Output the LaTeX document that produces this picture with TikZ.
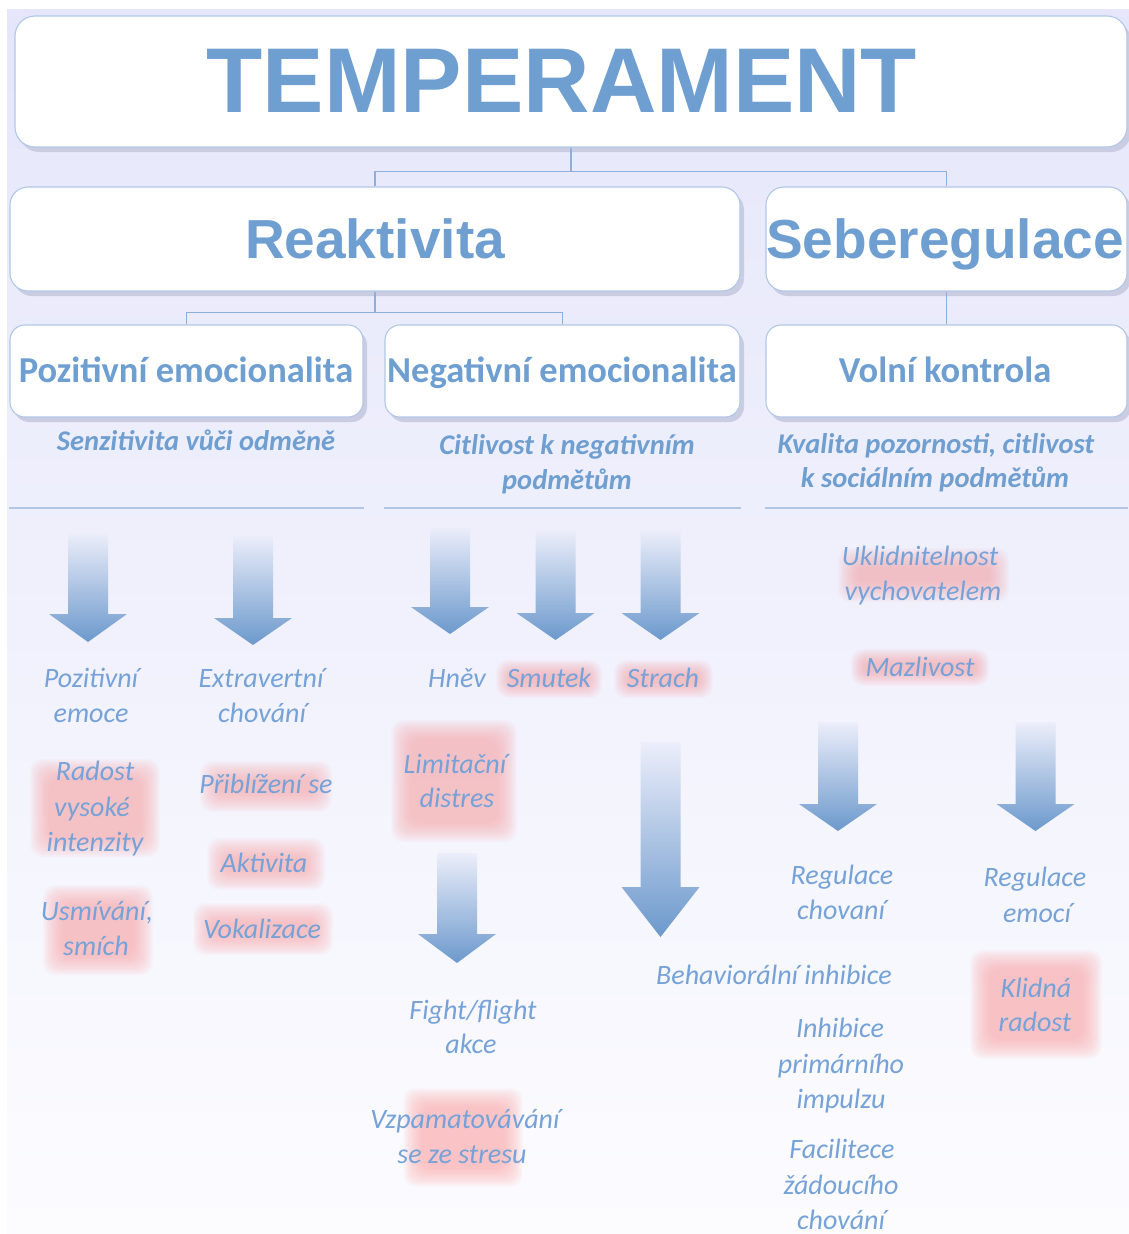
\documentclass[tikz,border=0pt]{standalone}
\usepackage{fontspec}
\setmainfont{Carlito}
\newfontfamily\headfont{Liberation Sans}
\usetikzlibrary{shadows}

\definecolor{bgtop}{HTML}{E5E6FA}
\definecolor{bgbot}{HTML}{FCFCFF}
\definecolor{titleblue}{HTML}{6F9ED0}
\definecolor{itemblue}{HTML}{76A2D8}
\definecolor{boxline}{HTML}{B2C7E8}
\definecolor{connc}{HTML}{8EAEDB}
\definecolor{shadowc}{HTML}{CACCE2}
\definecolor{arrtop}{HTML}{ECEEFA}
\definecolor{arrbot}{HTML}{6C99CC}
\definecolor{glowc}{HTML}{FEACAE}

% block arrow pointing down: centre x, top y, shoulder y, tip y
\newcommand\blockarr[4]{%
  \shade[top color=arrtop, bottom color=arrbot]
    ({#1-20},#2) -- ({#1+20},#2) -- ({#1+20},#3) -- ({#1+39},#3) --
    (#1,#4) -- ({#1-39},#3) -- ({#1-20},#3) -- cycle;}

% soft pink highlight behind a label: x1, y1, x2, y2
\newcommand\softglow[4]{%
  \pgfmathsetmacro\gmin{min(#3-#1,#4-#2)}%
  \pgfmathsetmacro\gst{min(1.3,\gmin/38)}%
  \foreach \k in {0,...,15}{%
    \pgfmathsetmacro\grc{max(2,min(12,(\gmin-2*\k*\gst)/2.5))}%
    \fill[glowc, opacity=0.062, rounded corners=\grc pt]
      ({#1+\k*\gst},{#2+\k*\gst}) rectangle ({#3-\k*\gst},{#4-\k*\gst});}}

\begin{document}
\begin{tikzpicture}[x=1pt, y=-1pt,
  box/.style={draw=boxline, line width=1.1pt, fill=white, rounded corners=#1,
    inner sep=0pt, drop shadow={shadow xshift=4pt, shadow yshift=-5pt,
    fill=shadowc, opacity=1}},
  box/.default=15pt,
  conn/.style={draw=connc, line width=1.1pt},
  divline/.style={draw=boxline, line width=1.5pt},
  bigtitle/.style={text=titleblue, inner sep=0pt, anchor=base,
    font=\headfont\bfseries\fontsize{92}{92}\selectfont},
  midtitle/.style={text=titleblue, inner sep=0pt, anchor=base,
    font=\headfont\bfseries\fontsize{55}{55}\selectfont},
  subtitle/.style={text=titleblue, inner sep=0pt, anchor=base,
    font=\bfseries\fontsize{36.5}{36}\selectfont},
  note/.style={text=titleblue, inner sep=0pt, anchor=base,
    font=\bfseries\itshape\fontsize{28.5}{30}\selectfont},
  item/.style={text=itemblue, inner sep=0pt, anchor=base,
    font=\itshape\fontsize{28}{30}\selectfont}]

\useasboundingbox (0,0) rectangle (1129,1234);
\fill[white] (0,0) rectangle (1129,1234);
\shade[top color=bgtop, bottom color=bgbot] (7,9) rectangle (1129,1234);

% ---- boxes of the hierarchy ----
\node[box=20pt, minimum width=1112pt, minimum height=131pt] (temp) at (571,81.5) {};
\node[box=18pt, minimum width=730pt, minimum height=104pt] (reak) at (375,239) {};
\node[box=18pt, minimum width=361pt, minimum height=104pt] (sebe) at (946.5,239) {};
\node[box, minimum width=353pt, minimum height=92pt] (poz) at (186.5,371) {};
\node[box, minimum width=355pt, minimum height=92pt] (neg) at (562.5,371) {};
\node[box, minimum width=361pt, minimum height=92pt] (vol) at (946.5,371) {};

\node[bigtitle] (temp-t) at (562,112) {TEMPERAMENT};
\node[midtitle] (reak-t) at (375,258) {Reaktivita};
\node[midtitle] (sebe-t) at (945,258) {Seberegulace};
\node[subtitle] (poz-t) at (186,382) {Pozitivní emocionalita};
\node[subtitle] (neg-t) at (562,382) {Negativní emocionalita};
\node[subtitle] (vol-t) at (945,382) {Volní kontrola};

% ---- tree connectors ----
\draw[conn] (temp.south) -- ++(0,24) coordinate (j1);
\draw[conn] (reak.north) |- (j1) -| (sebe.north);
\draw[conn] (reak.south) -- ++(0,21) coordinate (j2);
\draw[conn] (poz.north) |- (j2) -| (neg.north);
\draw[conn] (sebe.south) -- (vol.north);

% ---- notes under the second level ----
\node[note] (poz-n) at (196,450) {Senzitivita vůči odměně};
\node[note] (neg-n1) at (567,454) {Citlivost k negativním};
\node[note] (neg-n2) at (567,489) {podmětům};
\node[note] (vol-n1) at (936,453) {Kvalita pozornosti, citlivost};
\node[note] (vol-n2) at (935,487) {k sociálním podmětům};

\draw[divline] (poz.west |- 0,508) -- (poz.east |- 0,508);
\draw[divline] (neg.west |- 0,508) -- (neg.east |- 0,508);
\draw[divline] (vol.west |- 0,508) -- (vol.east |- 0,508);

% ---- pink highlights ----
\softglow{30}{759}{160}{857}
\softglow{43}{885}{153}{975}
\softglow{200}{761}{332}{812}
\softglow{207}{838}{325}{890}
\softglow{193}{903}{333}{955}
\softglow{496}{660}{602}{698}
\softglow{614}{660}{713}{698}
\softglow{391}{720}{517}{842}
\softglow{403}{1088}{523}{1187}
\softglow{838}{548}{1009}{602}
\softglow{851}{649}{989}{686}
\softglow{970}{950}{1102}{1059}

% ---- arrows ----
\blockarr{88}{533}{614}{642}
\blockarr{253}{535}{618}{645}
\blockarr{450}{527}{607}{634}
\blockarr{555.5}{530}{613}{640}
\blockarr{660.5}{530}{613}{640}
\blockarr{457}{853}{934}{963}
\blockarr{660.5}{742}{887}{937}
\blockarr{838}{722}{804}{831}
\blockarr{1035.5}{722}{804}{831}

% ---- positive emotionality ----
\node[item] (pe1) at (91,687) {Pozitivní};
\node[item] (pe2) at (91,722) {emoce};
\node[item] (ex1) at (261,687) {Extravertní};
\node[item] (ex2) at (262,722) {chování};
\node[item] (ra1) at (95,780) {Radost};
\node[item] (ra2) at (92,816) {vysoké};
\node[item] (ra3) at (95,851) {intenzity};
\node[item] (us1) at (97,920) {Usmívání,};
\node[item] (us2) at (96,955) {smích};
\node[item] (pr) at (266,793) {Přiblížení se};
\node[item] (ak) at (264,872) {Aktivita};
\node[item] (vo) at (262,938) {Vokalizace};

% ---- negative emotionality ----
\node[item] (hn) at (457,687) {Hněv};
\node[item] (sm) at (549,687) {Smutek};
\node[item] (st) at (663,687) {Strach};
\node[item] (li1) at (455,773) {Limitační};
\node[item] (li2) at (457,807) {distres};
\node[item] (ff1) at (473,1019) {Fight/flight};
\node[item] (ff2) at (471,1053) {akce};
\node[item] (vz1) at (465,1128) {Vzpamatovávání};
\node[item] (vz2) at (462,1163) {se ze stresu};
\node[item] (bi) at (774,984) {Behaviorální inhibice};

% ---- effortful control ----
\node[item] (uk1) at (920,565) {Uklidnitelnost};
\node[item] (uk2) at (923,600) {vychovatelem};
\node[item] (ma) at (920,676) {Mazlivost};
\node[item] (rc1) at (842,884) {Regulace};
\node[item] (rc2) at (841,919) {chovaní};
\node[item] (re1) at (1035,886) {Regulace};
\node[item] (re2) at (1037,922) {emocí};
\node[item] (kr1) at (1036,997) {Klidná};
\node[item] (kr2) at (1035,1031) {radost};
\node[item] (ih1) at (840,1037) {Inhibice};
\node[item] (ih2) at (841,1073) {primárního};
\node[item] (ih3) at (841,1108) {impulzu};
\node[item] (fa1) at (842,1158) {Facilitece};
\node[item] (fa2) at (841,1194) {žádoucího};
\node[item] (fa3) at (841,1229) {chování};
\end{tikzpicture}
\end{document}
